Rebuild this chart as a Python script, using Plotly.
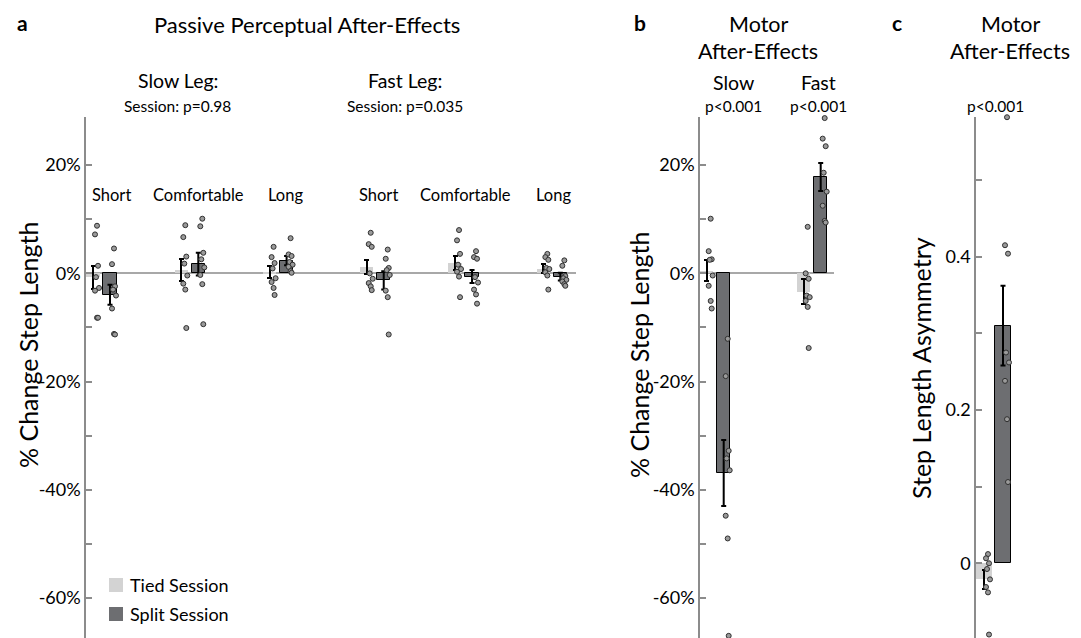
import plotly.graph_objects as go

# ---------------- data ----------------
conditions = ["Short", "Comfortable", "Long"]

# Panel a: passive perceptual after-effects (% change step length)
slow_tied_mean = [-0.7, 0.6, 0.25]
slow_tied_sem = [2.1, 2.0, 1.1]
slow_split_mean = [-3.95, 1.7, 2.35]
slow_split_sem = [1.85, 2.1, 0.85]
fast_tied_mean = [1.2, 1.9, 0.85]
fast_tied_sem = [1.3, 1.3, 0.8]
fast_split_mean = [-1.3, -0.6, -0.6]
fast_split_sem = [1.7, 1.2, 0.7]

slow_tied_pts = [
    [8.8, 7.2, 1.4, -0.7, -2.7, -3.2, -8.2, -8.2],
    [8.9, 6.7, 3.1, 1.8, -0.4, -1.9, -3.0, -10.1],
    [4.9, 3.0, 1.9, 0.9, -0.9, -1.6, -2.7, -4.0],
]
slow_split_pts = [
    [4.6, 1.7, -2.4, -3.0, -4.1, -6.5, -11.2, -11.3],
    [10.1, 8.7, 3.8, 2.6, 1.1, -0.3, -2.0, -9.4],
    [6.5, 3.5, 3.2, 2.1, 1.6, 1.2, 0.4, 0.1],
]
fast_tied_pts = [
    [7.5, 5.4, 4.9, 0.0, -1.0, -1.8, -2.4, -3.1],
    [8.0, 6.1, 3.6, 1.6, 0.8, 0.3, -0.6, -4.4],
    [3.6, 3.0, 2.5, 1.0, 0.8, 0.2, -0.4, -3.0],
]
fast_split_pts = [
    [4.4, 2.7, 1.0, 0.6, -0.3, -3.2, -4.4, -11.3],
    [4.1, 3.0, 2.7, -0.7, -1.7, -3.0, -3.9, -5.6],
    [2.4, 1.4, -0.5, -0.9, -1.2, -1.5, -2.0, -2.3],
]

# Panel b: motor after-effects (% change step length)
motor_legs = ["Slow", "Fast"]
motor_tied_mean = [0.5, -3.4]
motor_tied_sem = [1.9, 2.3]
motor_split_mean = [-36.9, 17.8]
motor_split_sem = [6.1, 2.6]
motor_tied_pts = [
    [10.1, 4.1, 2.6, 2.5, -0.4, -2.3, -5.1, -6.5],
    [8.6, 0.0, -1.0, -4.1, -4.4, -5.1, -6.2, -13.8],
]
motor_split_pts = [
    [-12.1, -19.0, -32.8, -34.2, -36.4, -44.8, -49.0, -67.0],
    [28.7, 24.9, 23.5, 18.6, 15.1, 12.5, 9.7, 9.4],
]

# Panel c: step length asymmetry
asym_tied_mean = [-0.021]
asym_tied_sem = [0.0125]
asym_split_mean = [0.31]
asym_split_sem = [0.052]
asym_tied_pts = [0.012, 0.0065, 0.0, -0.0075, -0.021, -0.031, -0.038, -0.093]
asym_split_pts = [0.582, 0.415, 0.404, 0.275, 0.262, 0.238, 0.188, 0.106]

pct_ticks = [-60, -50, -40, -30, -20, -10, 0, 10, 20]
pct_ticktext = ["-60%", "", "-40%", "", "-20%", "", "0%", "", "20%"]
asym_ticks = [0, 0.1, 0.2, 0.3, 0.4, 0.5]
asym_ticktext = ["0", "", "0.2", "", "0.4", ""]

# ---------------- styling / layout ----------------
W, H = 1081, 638
PAGE_OFF = 8  # browser body margin
FONT = "Lato"
TIED_C = "#d3d3d3"
SPLIT_C = "#6d6e71"
AXIS_C = "#8c8c8c"
PT_FILL = "#9a9a9a"
PT_LINE = "#303030"
JIT_PX = [4, 2, 5, 3, 6, 2, 4, 5]


def px(x):
    return (x - PAGE_OFF) / W


def py(y):
    return 1 - (y - PAGE_OFF) / H


Y_DOM = [py(638), py(117)]

# panel geometry (pixels per x-unit)
PPU_A, PPU_B, PPU_C = 88.3, 97.0, 97.0
centers_a = [1, 2, 3, 4.1, 5.1, 6.1]
centers_b = [1, 2]
centers_c = [1]
OFF_A, OFF_B, OFF_C = 8.5 / PPU_A, 8.5 / PPU_B, 9.5 / PPU_C
BW_A, BW_B, BW_C = 13.4 / PPU_A, 13.5 / PPU_B, 16.0 / PPU_C

fig = go.Figure()


def add_panel(xa, ya, centers, off, bw, ppu, tmean, tsem, smean, ssem, tpts, spts, ebw):
    tx = [c - off for c in centers]
    sx = [c + off for c in centers]
    fig.add_trace(go.Bar(
        x=tx, y=tmean, width=bw, xaxis=xa, yaxis=ya, showlegend=False,
        marker=dict(color=TIED_C, line=dict(width=0)),
        error_y=dict(type="data", array=tsem, color="black", thickness=2, width=ebw),
        hoverinfo="skip"))
    fig.add_trace(go.Bar(
        x=sx, y=smean, width=bw, xaxis=xa, yaxis=ya, showlegend=False,
        marker=dict(color=SPLIT_C, line=dict(width=1, color="black")),
        error_y=dict(type="data", array=ssem, color="black", thickness=2, width=ebw),
        hoverinfo="skip"))
    xs, ys = [], []
    for pos, grp in list(zip(tx, tpts)) + list(zip(sx, spts)):
        for i, v in enumerate(grp):
            xs.append(pos + JIT_PX[i % len(JIT_PX)] / ppu)
            ys.append(v)
    fig.add_trace(go.Scatter(
        x=xs, y=ys, mode="markers", xaxis=xa, yaxis=ya, showlegend=False,
        cliponaxis=False, hoverinfo="skip",
        marker=dict(size=5, color=PT_FILL, line=dict(width=1, color=PT_LINE))))


add_panel("x", "y", centers_a, OFF_A, BW_A, PPU_A,
          slow_tied_mean + fast_tied_mean, slow_tied_sem + fast_tied_sem,
          slow_split_mean + fast_split_mean, slow_split_sem + fast_split_sem,
          slow_tied_pts + fast_tied_pts, slow_split_pts + fast_split_pts, 2.5)
add_panel("x2", "y2", centers_b, OFF_B, BW_B, PPU_B,
          motor_tied_mean, motor_tied_sem, motor_split_mean, motor_split_sem,
          motor_tied_pts, motor_split_pts, 2.5)
add_panel("x3", "y3", centers_c, OFF_C, BW_C, PPU_C,
          asym_tied_mean, asym_tied_sem, asym_split_mean, asym_split_sem,
          [asym_tied_pts], [asym_split_pts], 2.5)


def xax(x0px, x1px, c1px, ppu):
    # range so that x=1 lands at pixel c1px
    return dict(domain=[px(x0px), px(x1px)],
                range=[1 - (c1px - x0px) / ppu, 1 + (x1px - c1px) / ppu],
                showline=False, showticklabels=False, ticks="", zeroline=False,
                showgrid=False, fixedrange=True)


def yax(anchor, rng, tickvals, ticktext, zeroline):
    return dict(domain=Y_DOM, range=rng, anchor=anchor,
                showline=True, linecolor=AXIS_C, linewidth=1.5,
                ticks="inside", ticklen=6, tickcolor=AXIS_C, tickwidth=1.5,
                tickvals=tickvals, ticktext=ticktext,
                tickfont=dict(family=FONT, size=18, color="black"),
                zeroline=zeroline, zerolinecolor="#a8a8a8", zerolinewidth=1.5,
                showgrid=False, fixedrange=True)


PCT_RANGE = [-67.4, 28.9]
ASYM_RANGE = [-0.0975, 0.5823]

fig.update_layout(
    width=W, height=H, autosize=False,
    margin=dict(l=0, r=0, t=0, b=0),
    paper_bgcolor="white", plot_bgcolor="white",
    barmode="overlay", bargap=0,
    font=dict(family=FONT, color="black"),
    xaxis=xax(86, 576, 101.5, PPU_A),
    yaxis=yax("x", PCT_RANGE, pct_ticks, pct_ticktext, True),
    xaxis2=xax(700, 834, 715.2, PPU_B),
    yaxis2=yax("x2", PCT_RANGE, pct_ticks, pct_ticktext, True),
    xaxis3=xax(976, 1030, 993.5, PPU_C),
    yaxis3=yax("x3", ASYM_RANGE, asym_ticks, asym_ticktext, False),
)

ann = []


def text(t, xp, yp, size, bold=False, xanchor="center", angle=0):
    ann.append(dict(text=("<b>%s</b>" % t) if bold else t, x=px(xp), y=py(yp),
                    xref="paper", yref="paper", xanchor=xanchor, yanchor="middle",
                    showarrow=False, textangle=angle,
                    font=dict(family=FONT, size=size, color="black")))


# panel letters and titles
text("a", 22, 22, 21, bold=True)
text("Passive Perceptual After-Effects", 307, 24, 22)
text("Slow Leg:", 178, 81, 19.5)
text("Session: p=0.98", 177, 106, 15.5)
text("Fast Leg:", 405, 81, 19.5)
text("Session: p=0.035", 405, 106, 15.5)
for lbl, xp in zip(conditions + conditions, [111, 198, 285, 378, 465, 554]):
    text(lbl, xp, 195, 16.5)

text("b", 640, 22, 21, bold=True)
text("Motor", 758, 24, 21.5)
text("After-Effects", 758, 51, 21.5)
for lbl, xp in zip(motor_legs, [733, 818.5]):
    text(lbl, xp, 82, 19.5)
    text("p<0.001", xp, 106, 15.5)

text("c", 897, 22, 21, bold=True)
text("Motor", 1010, 24, 21.5)
text("After-Effects", 1010, 51, 21.5)
text("p<0.001", 995.5, 106, 15.5)

# y-axis titles
text("% Change Step Length", 28, 345, 25, angle=-90)
text("% Change Step Length", 639, 355, 25, angle=-90)
text("Step Length Asymmetry", 921, 368, 25, angle=-90)

# legend
text("Tied Session", 128, 585, 18, xanchor="left")
text("Split Session", 128, 614, 18, xanchor="left")
fig.update_layout(annotations=ann, shapes=[
    dict(type="rect", xref="paper", yref="paper", x0=px(109), x1=px(123),
         y0=py(592), y1=py(578), fillcolor=TIED_C, line=dict(width=0)),
    dict(type="rect", xref="paper", yref="paper", x0=px(109), x1=px(123),
         y0=py(621), y1=py(607), fillcolor=SPLIT_C, line=dict(width=0)),
])

fig.write_html("out.html")
